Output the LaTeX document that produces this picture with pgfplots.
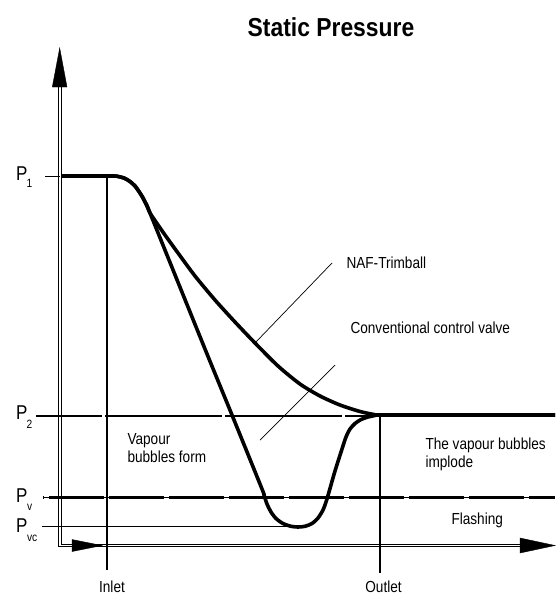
\documentclass[border=0pt]{standalone}
\usepackage{fontspec}
\setmainfont{Liberation Sans}[FakeStretch=0.85]
\newfontfamily\titlefont{Liberation Sans Bold}[FakeStretch=0.88]
\usepackage{pgfplots}
\pgfplotsset{compat=1.18}
\begin{document}
\begin{tikzpicture}
\begin{axis}[name=ax,
  width=555pt, height=594pt, scale only axis,
  xmin=0, xmax=555, ymin=0, ymax=594, y dir=reverse,
  axis lines=none, clip=false,
  every node/.style={inner sep=0pt, outer sep=0pt},
  ]
% axes (double lines)
\addplot[black, line width=1pt, line join=miter] coordinates {(58.3,80) (58.3,546.9) (522,546.9)};
\addplot[black, line width=1pt, line join=miter] coordinates {(61.7,80) (61.7,544.1) (522,544.1)};
\addplot[black, fill=black] coordinates {(52.3,87) (59.7,48) (67,87)} -- cycle;
\addplot[black, fill=black] coordinates {(520,538) (555,545.5) (520,553)} -- cycle;
\addplot[black, fill=black] coordinates {(72,539.5) (102,545.5) (72,551.5)} -- cycle;
% reference levels
\addplot[black, line width=1pt] coordinates {(45,176) (60,176)};
\addplot[black, line width=1.2pt, dash pattern=on 117pt off 3pt, dash phase=51pt] coordinates {(36,416) (555,416)};
\addplot[black, line width=0.9pt] coordinates {(43,497) (555,497)};
\addplot[black, line width=3pt, dash pattern=on 55pt off 5pt, dash phase=54pt] coordinates {(43,497) (555,497)};
\addplot[black, line width=1.2pt] coordinates {(42,526.5) (298,526.5)};
% inlet / outlet
\addplot[black, line width=1.2pt] coordinates {(107,177) (107,570)};
\addplot[black, line width=1.2pt] coordinates {(380,415) (380,573)};
% leader lines
\addplot[black, line width=0.7pt] coordinates {(332,263) (255,343)};
\addplot[black, line width=0.7pt] coordinates {(335,365) (260,440)};
% conventional control valve
\addplot[black, line width=3.6pt, smooth, tension=0.45, line join=round] coordinates {
(62,176) (112,176) (118,176.5) (124,178) (130,181.5) (135,186) (139,191.5) (143,198) (147,206) (150,213)
(205,349) (232,415) (262,489) (264,495) (267,504) (271,512) (276,518.5) (283,523.5) (291,526.3) (298,527)
(305,526.3) (312,523.5) (318,518) (323,510) (326,502) (329,492) (335,471) (342,449) (346,437) (350,429)
(355,423.5) (361,419.5) (368,417) (375,415.5) (382,415) (555,415)};
% NAF-Trimball
\addplot[black, line width=3.6pt, smooth, tension=0.45, line join=round] coordinates {
(62,176) (112,176) (118,176.5) (124,178) (130,181.5) (135,186) (139,191.5) (143,198) (147,206) (150,213)
(156,222) (165,235) (178,253) (195,276) (215,300) (235,322) (255,343) (278,366) (300,384) (320,396)
(340,405) (360,411.5) (374,414.5) (382,415) (555,415)};
% texts
\node[anchor=base] at (axis cs:331,37) {\fontsize{26}{30}\selectfont\titlefont Static Pressure};
\node[anchor=base west] at (axis cs:343,268) {\fontsize{16}{19}\selectfont NAF-Trimball};
\node[anchor=base west] at (axis cs:347,333) {\fontsize{16}{19}\selectfont Conventional control valve};
\node[anchor=base west] at (axis cs:124,444) {\fontsize{16}{19}\selectfont Vapour};
\node[anchor=base west] at (axis cs:124,462) {\fontsize{16}{19}\selectfont bubbles form};
\node[anchor=base west] at (axis cs:422,449) {\fontsize{16}{19}\selectfont The vapour bubbles};
\node[anchor=base west] at (axis cs:422,467) {\fontsize{16}{19}\selectfont implode};
\node[anchor=base west] at (axis cs:448,524) {\fontsize{16}{19}\selectfont Flashing};
\node[anchor=base] at (axis cs:112,592) {\fontsize{16}{19}\selectfont Inlet};
\node[anchor=base] at (axis cs:383.5,592) {\fontsize{16}{19}\selectfont Outlet};
% P labels
\node[anchor=base west] at (axis cs:12.5,180) {\fontsize{20}{24}\selectfont P};
\node[anchor=base west] at (axis cs:23,187) {\fontsize{12}{14}\selectfont 1};
\node[anchor=base west] at (axis cs:12.5,419) {\fontsize{20}{24}\selectfont P};
\node[anchor=base west] at (axis cs:23,428) {\fontsize{12}{14}\selectfont 2};
\node[anchor=base west] at (axis cs:12.5,502) {\fontsize{20}{24}\selectfont P};
\node[anchor=base west] at (axis cs:23.5,510) {\fontsize{12}{14}\selectfont v};
\node[anchor=base west] at (axis cs:12.5,532) {\fontsize{20}{24}\selectfont P};
\node[anchor=base west] at (axis cs:23.5,541) {\fontsize{12}{14}\selectfont vc};
\end{axis}
\pgfresetboundingbox
\path (ax.south west) rectangle (ax.north east);
\end{tikzpicture}
\end{document}
